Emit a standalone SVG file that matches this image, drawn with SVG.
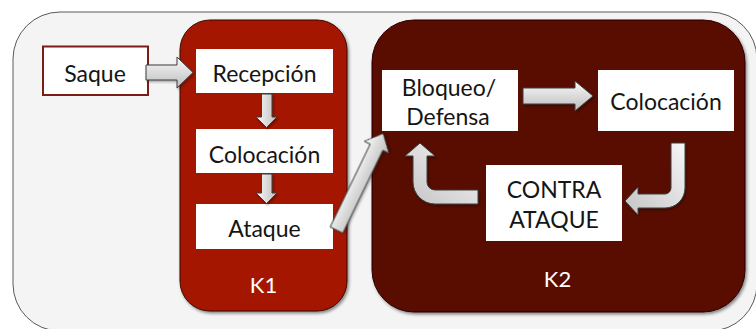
<svg xmlns="http://www.w3.org/2000/svg" width="756" height="329" viewBox="0 0 756 329">
  <defs>
    <linearGradient id="gradV" x1="0" y1="0" x2="0" y2="1">
      <stop offset="0" stop-color="#fafafa"/>
      <stop offset="1" stop-color="#bcbcbc"/>
    </linearGradient>
    <linearGradient id="gradH" x1="0" y1="0" x2="1" y2="0">
      <stop offset="0" stop-color="#fafafa"/>
      <stop offset="1" stop-color="#bcbcbc"/>
    </linearGradient>
    <linearGradient id="gradD" x1="1" y1="0" x2="0" y2="1">
      <stop offset="0" stop-color="#f6f6f6"/>
      <stop offset="1" stop-color="#c4c4c4"/>
    </linearGradient>
    <filter id="shadow" x="-10%" y="-10%" width="120%" height="120%">
      <feDropShadow dx="1.5" dy="2" stdDeviation="1.5" flood-color="#000" flood-opacity="0.45"/>
    </filter>
    <filter id="arrowShadow" x="-20%" y="-20%" width="140%" height="140%">
      <feDropShadow dx="1" dy="1.5" stdDeviation="1" flood-color="#000" flood-opacity="0.35"/>
    </filter>
  </defs>
  <style>
    .lbl { font-family: "Lato", "Open Sans", sans-serif; font-size: 23px; fill: #151515; text-anchor: middle; }
    .klbl { font-family: "Lato", "Open Sans", sans-serif; font-size: 22px; fill: #ffffff; text-anchor: middle; }
    .box { fill: #ffffff; }
    .arrow { stroke: #3c3c3c; stroke-width: 1; stroke-linejoin: miter; filter: url(#arrowShadow); }
  </style>

  <!-- background panel -->
  <rect x="13" y="12" width="744" height="319" rx="47" ry="47" fill="#f4f4f4" stroke="#5a5a5a" stroke-width="1"/>

  <!-- phase containers -->
  <g id="k1">
    <rect x="180" y="20" width="167" height="291" rx="30" ry="30" fill="#a41800" stroke="#3a0800" stroke-width="1" filter="url(#shadow)"/>
    <text class="klbl" x="263.5" y="293">K1</text>
  </g>
  <g id="k2">
    <rect x="372" y="20" width="373" height="292" rx="42" ry="42" fill="#590800" stroke="#2a0400" stroke-width="1" filter="url(#shadow)"/>
    <text class="klbl" x="557.5" y="287">K2</text>
  </g>

  <!-- nodes -->
  <g id="saque">
    <rect x="43" y="46.5" width="105" height="48.5" fill="#ffffff" stroke="#7a1d14" stroke-width="2"/>
    <text class="lbl" x="95" y="82">Saque</text>
  </g>
  <g id="recepcion">
    <rect class="box" x="196" y="49" width="137" height="44"/>
    <text class="lbl" x="264.5" y="82">Recepción</text>
  </g>
  <g id="colocacion-k1">
    <rect class="box" x="196" y="129" width="137" height="44"/>
    <text class="lbl" x="264.5" y="163">Colocación</text>
  </g>
  <g id="ataque">
    <rect class="box" x="196" y="204" width="137" height="45"/>
    <text class="lbl" x="264.5" y="237">Ataque</text>
  </g>
  <g id="bloqueo-defensa">
    <rect class="box" x="382" y="70" width="136" height="61"/>
    <text class="lbl" x="449" y="96">Bloqueo/</text>
    <text class="lbl" x="448" y="125">Defensa</text>
  </g>
  <g id="colocacion-k2">
    <rect class="box" x="598" y="70" width="136" height="61"/>
    <text class="lbl" x="666" y="110">Colocación</text>
  </g>
  <g id="contra-ataque">
    <rect class="box" x="486" y="165" width="136" height="76"/>
    <text class="lbl" x="554" y="198">CONTRA</text>
    <text class="lbl" x="554" y="228">ATAQUE</text>
  </g>

  <!-- connectors: block arrows -->
  <g id="connectors">
    <path class="arrow" fill="url(#gradV)" d="M146,65 H177 V57 L193,72.5 L177,88 V80 H146 Z"/>
    <path class="arrow" fill="url(#gradH)" d="M261.5,94 H272 V117 H277 L266.5,127.5 L256,117 H261.5 Z"/>
    <path class="arrow" fill="url(#gradH)" d="M261.5,174 H272 V193 H277 L266.5,203.5 L256,193 H261.5 Z"/>
    <path class="arrow" fill="url(#gradV)" d="M0,-7 H92 V-13.5 L107,0 L92,13.5 V7 H0 Z" transform="translate(336.5,230) rotate(-64.2)"/>
    <path class="arrow" fill="url(#gradV)" d="M523,88 H575 V81 L593,96 L575,111 V104 H523 Z"/>
    <path class="arrow" fill="url(#gradD)" d="M671,143 H685 V188 A20,20 0 0 1 665,208 H638 V215 L625,201 L638,187 V194 H665 A6,6 0 0 0 671,188 Z"/>
    <path class="arrow" fill="url(#gradD)" d="M478,190 V204 H435 A22,22 0 0 1 413,182 V156 H405 L420,143 L435,156 H427 V182 A8,8 0 0 0 435,190 Z"/>
  </g>
</svg>
